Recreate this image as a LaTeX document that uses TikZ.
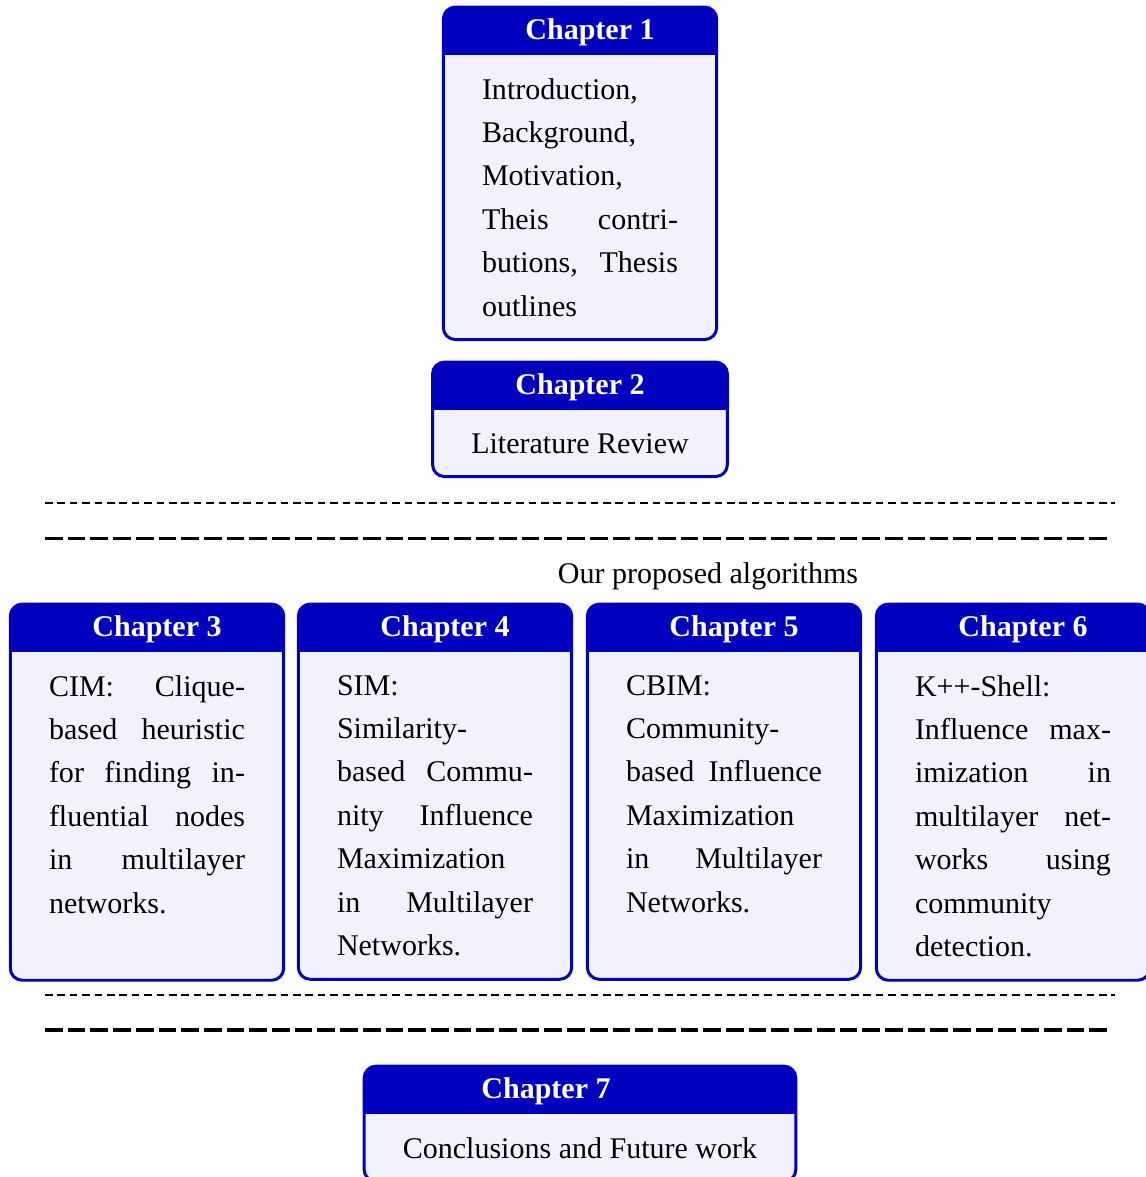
\documentclass[tikz,border=0pt]{standalone}
\usepackage{fontspec}
\setmainfont{Liberation Serif}
\usetikzlibrary{positioning, backgrounds}
\definecolor{chframe}{rgb}{0,0,0.75}
\colorlet{chback}{blue!5!white}
\newcommand{\chfont}{\fontsize{8.54}{12.35}\selectfont}
\tikzset{
  chbody/.style={anchor=north, inner xsep=0.38cm, inner ysep=0.225cm, font=\chfont},
  chtext/.style={chbody, align=justify, text width=1.96cm,
                 execute at begin node={\tolerance=9999\relax}},
  chrow/.style={chtext, text depth=2.61cm},
  chhead/.style={above=0pt of #1, text=white, font=\chfont\bfseries, inner xsep=0pt,
                 inner ysep=0.095cm, text height=0.22cm, text depth=0.055cm},
  boxframe/.style={draw=chframe, line width=0.85pt, rounded corners=0.12cm},
  sepshort/.style={line width=0.7pt, dash pattern=on 0.077cm off 0.047cm},
  seplong/.style={line width=0.9pt, dash pattern=on 0.177cm off 0.05cm},
}

\begin{document}
\begin{tikzpicture}
  \useasboundingbox (0,0) rectangle (11.45,-11.77);
  % chapter bodies
  \node[chtext] (ch1) at (5.80,-0.55) {Introduction, Background, Motivation, Theis contri\-butions, Thesis outlines};
  \node[chbody] (ch2) at (5.80,-4.10) {Literature Review};
  \node[chrow] (ch3) at (1.47,-6.52) {CIM: Clique-based heuristic for finding influential nodes in multilayer networks.};
  \node[chrow] (ch4) at (4.35,-6.52) {SIM: Similarity-based Community Influence Maximization in Multilayer Networks.};
  \node[chrow] (ch5) at (7.24,-6.52) {CBIM: Community-based Influence Maximization in Multilayer Networks.};
  \node[chrow] (ch6) at (10.13,-6.52) {K++-Shell: Influence max-\linebreak imization in multilayer net-\linebreak works using community detection.};
  \node[chbody] (ch7) at (5.80,-11.14) {Conclusions and Future work};

  % chapter titles
  \node[chhead=ch1, xshift=0.1cm] (head1) {Chapter 1};
  \node[chhead=ch2] (head2) {Chapter 2};
  \node[chhead=ch3, xshift=0.1cm] (head3) {Chapter 3};
  \node[chhead=ch4, xshift=0.1cm] (head4) {Chapter 4};
  \node[chhead=ch5, xshift=0.1cm] (head5) {Chapter 5};
  \node[chhead=ch6, xshift=0.1cm] (head6) {Chapter 6};
  \node[chhead=ch7, xshift=-0.34cm] (head7) {Chapter 7};

  \begin{scope}[on background layer]
    \foreach \n in {1,...,7} {
      \fill[chback, rounded corners=0.12cm] (ch\n.south west) rectangle (head\n.north -| ch\n.east);
      \begin{scope}
        \clip[rounded corners=0.12cm] (ch\n.south west) rectangle (head\n.north -| ch\n.east);
        \fill[chframe] (ch\n.north west) rectangle (head\n.north -| ch\n.east);
      \end{scope}
      \draw[boxframe] (ch\n.south west) rectangle (head\n.north -| ch\n.east);
    }
  \end{scope}

  % separators
  \draw[sepshort] (0.45,-5.03) -- (11.15,-5.03);
  \draw[seplong] (0.45,-5.385) -- (11.10,-5.385);
  \node[font=\chfont] (proposed) at (7.08,-5.76) {Our proposed algorithms};
  \draw[sepshort] (0.45,-9.95) -- (11.15,-9.95);
  \draw[seplong] (0.45,-10.30) -- (11.10,-10.30);
\end{tikzpicture}
\end{document}
